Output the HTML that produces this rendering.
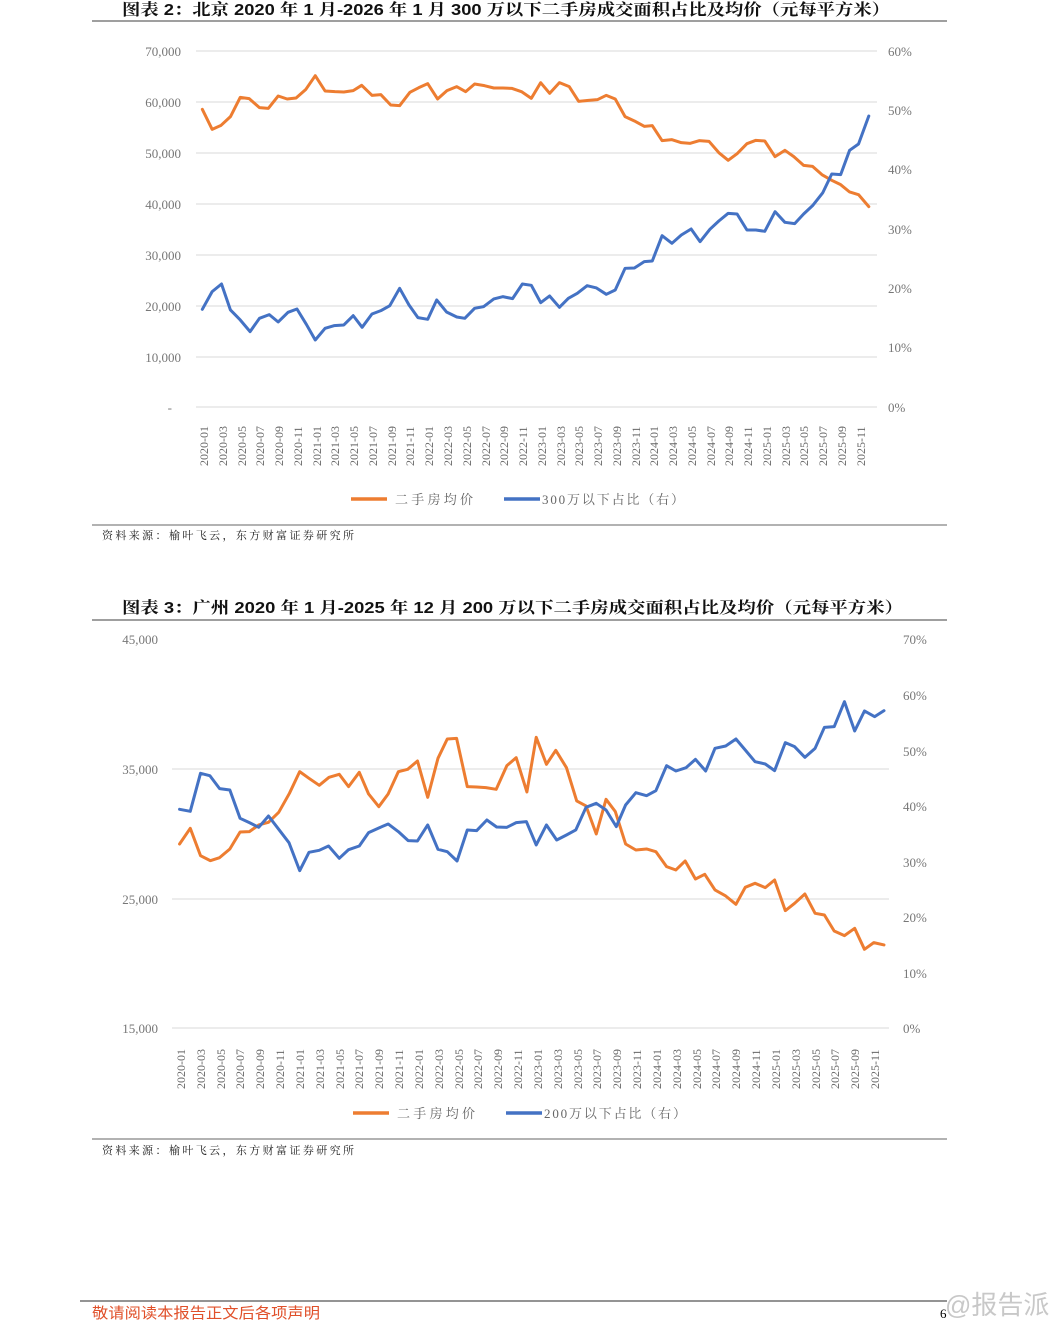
<!DOCTYPE html>
<html><head><meta charset="utf-8"><style>
body{margin:0;background:#fff;width:1061px;height:1320px;overflow:hidden;}
svg{display:block}
</style></head><body>
<svg width="1061" height="1320" xmlns="http://www.w3.org/2000/svg" font-family="Liberation Serif, Noto Serif CJK SC, serif">
<text x="122" y="15" textLength="768" lengthAdjust="spacingAndGlyphs" font-family="Liberation Sans, Noto Serif CJK SC, sans-serif" font-weight="bold" font-size="16" fill="#111">图表 2：北京 2020 年 1 月-2026 年 1 月 300 万以下二手房成交面积占比及均价（元每平方米）</text>
<line x1="92" y1="21" x2="947" y2="21" stroke="#666" stroke-width="1.2"/>
<g stroke="#d9d9d9" stroke-width="1">
<line x1="196" y1="51" x2="877" y2="51"/><line x1="196" y1="102" x2="877" y2="102"/><line x1="196" y1="153" x2="877" y2="153"/><line x1="196" y1="204" x2="877" y2="204"/><line x1="196" y1="255" x2="877" y2="255"/><line x1="196" y1="306" x2="877" y2="306"/><line x1="196" y1="357" x2="877" y2="357"/><line x1="196" y1="407" x2="877" y2="407"/>
</g>
<g font-size="13" fill="#777" text-anchor="end">
<text x="181" y="56">70,000</text><text x="181" y="107">60,000</text><text x="181" y="158">50,000</text><text x="181" y="209">40,000</text><text x="181" y="260">30,000</text><text x="181" y="311">20,000</text><text x="181" y="362">10,000</text><text x="172" y="412">-</text>
</g>
<g font-size="13" fill="#777">
<text x="888" y="56">60%</text><text x="888" y="115">50%</text><text x="888" y="174">40%</text><text x="888" y="234">30%</text><text x="888" y="293">20%</text><text x="888" y="352">10%</text><text x="888" y="412">0%</text>
</g>
<g font-size="12" fill="#666">
<text transform="translate(208,466) rotate(-90)">2020-01</text><text transform="translate(227,466) rotate(-90)">2020-03</text><text transform="translate(246,466) rotate(-90)">2020-05</text><text transform="translate(264,466) rotate(-90)">2020-07</text><text transform="translate(283,466) rotate(-90)">2020-09</text><text transform="translate(302,466) rotate(-90)">2020-11</text><text transform="translate(321,466) rotate(-90)">2021-01</text><text transform="translate(339,466) rotate(-90)">2021-03</text><text transform="translate(358,466) rotate(-90)">2021-05</text><text transform="translate(377,466) rotate(-90)">2021-07</text><text transform="translate(396,466) rotate(-90)">2021-09</text><text transform="translate(414,466) rotate(-90)">2021-11</text><text transform="translate(433,466) rotate(-90)">2022-01</text><text transform="translate(452,466) rotate(-90)">2022-03</text><text transform="translate(471,466) rotate(-90)">2022-05</text><text transform="translate(490,466) rotate(-90)">2022-07</text><text transform="translate(508,466) rotate(-90)">2022-09</text><text transform="translate(527,466) rotate(-90)">2022-11</text><text transform="translate(546,466) rotate(-90)">2023-01</text><text transform="translate(565,466) rotate(-90)">2023-03</text><text transform="translate(583,466) rotate(-90)">2023-05</text><text transform="translate(602,466) rotate(-90)">2023-07</text><text transform="translate(621,466) rotate(-90)">2023-09</text><text transform="translate(640,466) rotate(-90)">2023-11</text><text transform="translate(658,466) rotate(-90)">2024-01</text><text transform="translate(677,466) rotate(-90)">2024-03</text><text transform="translate(696,466) rotate(-90)">2024-05</text><text transform="translate(715,466) rotate(-90)">2024-07</text><text transform="translate(733,466) rotate(-90)">2024-09</text><text transform="translate(752,466) rotate(-90)">2024-11</text><text transform="translate(771,466) rotate(-90)">2025-01</text><text transform="translate(790,466) rotate(-90)">2025-03</text><text transform="translate(808,466) rotate(-90)">2025-05</text><text transform="translate(827,466) rotate(-90)">2025-07</text><text transform="translate(846,466) rotate(-90)">2025-09</text><text transform="translate(865,466) rotate(-90)">2025-11</text>
</g>
<g transform="translate(180,60) scale(0.4464,0.3333)" fill="none" stroke-width="3" stroke-linejoin="round" stroke-linecap="round">
<polyline vector-effect="non-scaling-stroke" stroke="#ED7D31" points="50,148 72,208 92,196 113,170 135,112 155,116 178,143 198,145 220,108 240,117 260,114 282,88 303,47 325,93 347,95 367,96 388,92 407,76 430,106 450,104 472,135 492,137 515,97 535,83 555,71 577,117 598,92 620,80 640,95 660,72 682,77 703,84 723,84 743,85 765,95 787,115 808,68 828,100 850,68 872,80 893,124 915,121 935,119 955,106 975,117 997,170 1018,183 1040,199 1058,197 1080,242 1102,239 1123,248 1143,250 1163,242 1185,244 1207,278 1228,301 1248,281 1270,251 1290,241 1310,243 1333,290 1355,271 1375,290 1397,316 1417,319 1438,344 1460,361 1480,374 1500,396 1520,404 1543,440"/>
<polyline vector-effect="non-scaling-stroke" stroke="#4472C4" points="50,748 72,695 93,672 113,750 135,780 157,815 178,775 200,764 220,786 242,757 262,747 283,793 303,840 325,805 345,797 367,795 388,767 408,802 430,762 450,752 470,737 492,685 513,735 533,773 555,778 575,720 597,756 620,771 638,775 660,745 680,740 703,717 723,710 745,716 767,672 787,676 808,728 828,708 850,742 870,715 890,700 912,677 933,684 955,703 975,690 997,625 1018,624 1040,605 1058,603 1080,527 1102,550 1123,525 1145,507 1165,545 1187,508 1207,483 1228,460 1248,462 1270,510 1290,510 1310,514 1333,455 1355,487 1377,491 1397,462 1417,437 1440,398 1460,342 1480,344 1500,271 1520,252 1543,168"/>
</g>
<line x1="351" y1="499" x2="387" y2="499" stroke="#ED7D31" stroke-width="3.5"/>
<text x="395" y="504" font-size="13" fill="#666" textLength="78" lengthAdjust="spacing">二手房均价</text>
<line x1="504" y1="499" x2="540" y2="499" stroke="#4472C4" stroke-width="3.5"/>
<text x="542" y="504" font-size="13" fill="#666" textLength="142" lengthAdjust="spacing">300万以下占比（右）</text>
<line x1="92" y1="525" x2="947" y2="525" stroke="#666" stroke-width="1"/>
<text x="102" y="539" font-size="11" fill="#222" textLength="252" lengthAdjust="spacing">资料来源：榆叶飞云，东方财富证券研究所</text>

<text x="122" y="613" textLength="781" lengthAdjust="spacingAndGlyphs" font-family="Liberation Sans, Noto Serif CJK SC, sans-serif" font-weight="bold" font-size="16" fill="#111">图表 3：广州 2020 年 1 月-2025 年 12 月 200 万以下二手房成交面积占比及均价（元每平方米）</text>
<line x1="92" y1="620" x2="947" y2="620" stroke="#666" stroke-width="1.2"/>
<g stroke="#d9d9d9" stroke-width="1">
<line x1="172" y1="769" x2="889" y2="769"/><line x1="172" y1="899" x2="889" y2="899"/><line x1="172" y1="1028" x2="889" y2="1028"/>
</g>
<g font-size="13" fill="#777" text-anchor="end">
<text x="158" y="644">45,000</text><text x="158" y="774">35,000</text><text x="158" y="904">25,000</text><text x="158" y="1033">15,000</text>
</g>
<g font-size="13" fill="#777">
<text x="903" y="644">70%</text><text x="903" y="700">60%</text><text x="903" y="756">50%</text><text x="903" y="811">40%</text><text x="903" y="867">30%</text><text x="903" y="922">20%</text><text x="903" y="978">10%</text><text x="903" y="1033">0%</text>
</g>
<g font-size="12" fill="#666">
<text transform="translate(185,1089) rotate(-90)">2020-01</text><text transform="translate(205,1089) rotate(-90)">2020-03</text><text transform="translate(225,1089) rotate(-90)">2020-05</text><text transform="translate(244,1089) rotate(-90)">2020-07</text><text transform="translate(264,1089) rotate(-90)">2020-09</text><text transform="translate(284,1089) rotate(-90)">2020-11</text><text transform="translate(304,1089) rotate(-90)">2021-01</text><text transform="translate(324,1089) rotate(-90)">2021-03</text><text transform="translate(344,1089) rotate(-90)">2021-05</text><text transform="translate(363,1089) rotate(-90)">2021-07</text><text transform="translate(383,1089) rotate(-90)">2021-09</text><text transform="translate(403,1089) rotate(-90)">2021-11</text><text transform="translate(423,1089) rotate(-90)">2022-01</text><text transform="translate(443,1089) rotate(-90)">2022-03</text><text transform="translate(463,1089) rotate(-90)">2022-05</text><text transform="translate(482,1089) rotate(-90)">2022-07</text><text transform="translate(502,1089) rotate(-90)">2022-09</text><text transform="translate(522,1089) rotate(-90)">2022-11</text><text transform="translate(542,1089) rotate(-90)">2023-01</text><text transform="translate(562,1089) rotate(-90)">2023-03</text><text transform="translate(582,1089) rotate(-90)">2023-05</text><text transform="translate(601,1089) rotate(-90)">2023-07</text><text transform="translate(621,1089) rotate(-90)">2023-09</text><text transform="translate(641,1089) rotate(-90)">2023-11</text><text transform="translate(661,1089) rotate(-90)">2024-01</text><text transform="translate(681,1089) rotate(-90)">2024-03</text><text transform="translate(701,1089) rotate(-90)">2024-05</text><text transform="translate(720,1089) rotate(-90)">2024-07</text><text transform="translate(740,1089) rotate(-90)">2024-09</text><text transform="translate(760,1089) rotate(-90)">2024-11</text><text transform="translate(780,1089) rotate(-90)">2025-01</text><text transform="translate(800,1089) rotate(-90)">2025-03</text><text transform="translate(820,1089) rotate(-90)">2025-05</text><text transform="translate(839,1089) rotate(-90)">2025-07</text><text transform="translate(859,1089) rotate(-90)">2025-09</text><text transform="translate(879,1089) rotate(-90)">2025-11</text>
</g>
<g transform="translate(160,670) scale(0.4656,0.3333)" fill="none" stroke-width="3" stroke-linejoin="round" stroke-linecap="round">
<polyline vector-effect="non-scaling-stroke" stroke="#ED7D31" points="42,522 65,475 87,557 108,572 128,563 150,537 172,486 192,485 212,465 233,457 255,427 278,370 300,305 320,325 342,346 363,322 385,313 405,350 428,307 448,372 470,410 490,372 512,305 532,298 553,273 575,382 597,265 617,207 637,205 660,350 680,351 700,353 722,358 745,287 765,263 788,366 808,202 830,283 850,241 873,293 895,393 915,408 937,492 958,388 978,425 1000,522 1022,540 1045,537 1065,545 1088,590 1108,600 1128,573 1150,627 1170,613 1192,660 1215,678 1237,703 1257,652 1278,640 1300,653 1320,630 1343,722 1363,700 1385,672 1407,730 1427,735 1448,783 1470,797 1492,775 1513,838 1533,818 1555,825"/>
<polyline vector-effect="non-scaling-stroke" stroke="#4472C4" points="42,418 65,424 87,310 107,317 128,356 150,360 172,445 192,458 212,472 233,438 255,478 277,518 300,602 320,547 342,541 362,528 385,565 405,539 428,528 448,488 470,474 490,462 512,485 533,512 553,513 575,465 597,538 617,545 638,573 660,480 680,482 702,450 723,471 745,472 765,458 787,455 808,525 830,465 852,510 873,495 893,480 915,412 937,400 958,420 980,470 1000,405 1022,368 1045,377 1065,362 1088,287 1108,303 1130,293 1150,268 1172,303 1192,235 1215,228 1237,207 1257,240 1278,275 1300,282 1320,302 1343,218 1363,230 1385,262 1407,235 1427,172 1448,170 1470,95 1492,183 1513,123 1535,140 1555,122"/>
</g>
<line x1="353" y1="1113" x2="389" y2="1113" stroke="#ED7D31" stroke-width="3.5"/>
<text x="397" y="1118" font-size="13" fill="#666" textLength="78" lengthAdjust="spacing">二手房均价</text>
<line x1="506" y1="1113" x2="542" y2="1113" stroke="#4472C4" stroke-width="3.5"/>
<text x="544" y="1118" font-size="13" fill="#666" textLength="142" lengthAdjust="spacing">200万以下占比（右）</text>
<line x1="92" y1="1139" x2="947" y2="1139" stroke="#666" stroke-width="1"/>
<text x="102" y="1154" font-size="11" fill="#222" textLength="252" lengthAdjust="spacing">资料来源：榆叶飞云，东方财富证券研究所</text>

<line x1="80" y1="1301" x2="947" y2="1301" stroke="#555" stroke-width="1.2"/>
<text x="92" y="1318" textLength="228" lengthAdjust="spacingAndGlyphs" font-family="Liberation Sans, Noto Sans CJK SC, sans-serif" font-size="15" fill="#e0502a">敬请阅读本报告正文后各项声明</text>
<text x="940" y="1318" font-size="13" fill="#000">6</text>
<text x="945" y="1314" font-family="Liberation Sans, Noto Sans CJK SC, sans-serif" font-size="26" fill="#bbb" opacity="0.8">@报告派</text>
</svg>
</body></html>
